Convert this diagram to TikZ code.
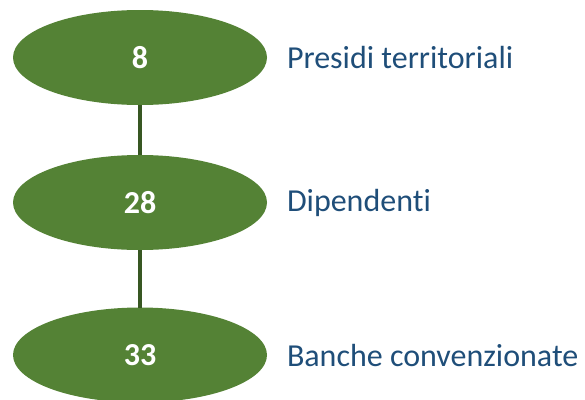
\documentclass[tikz,border=0pt]{standalone}
\usepackage{fontspec}
\setmainfont{Carlito}[Ligatures=NoCommon]
\usetikzlibrary{shapes.geometric}
\usetikzlibrary{positioning}
\definecolor{G}{HTML}{548235}
\definecolor{D}{HTML}{385723}
\definecolor{B}{HTML}{1F4E79}
\tikzstyle{base}=[x=1pt, y=-1pt, inner sep=0pt, outer sep=0pt]
\tikzstyle{blob}=[ellipse, fill=G, minimum width=254pt, minimum height=95pt, text=white, font=\fontsize{32}{38}\selectfont\bfseries]
\tikzstyle{caption}=[right=20pt of #1, anchor=west, text=B, font=\fontsize{32}{38}\selectfont]
\tikzstyle{link}=[D, line width=3.5pt]

\begin{document}
\begin{tikzpicture}[base]
    \path [use as bounding box] (0,0) rectangle (585,399);
        \node [blob] (presidi) at (140,57.5) {8};
        \node [blob] (dipendenti) at (140,202.5) {28};
        \node [blob] (banche) at (140,355) {33};
        \draw [link] (presidi.south) -- (dipendenti.north);
        \draw [link] (dipendenti.south) -- (banche.north);
        \node [caption=presidi] (presidilbl) {Presidi territoriali};
        \node [caption=dipendenti] (dipendentilbl) {Dipendenti};
        \node [caption=banche] (banchelbl) {Banche convenzionate};
    \end{tikzpicture}
\end{document}
